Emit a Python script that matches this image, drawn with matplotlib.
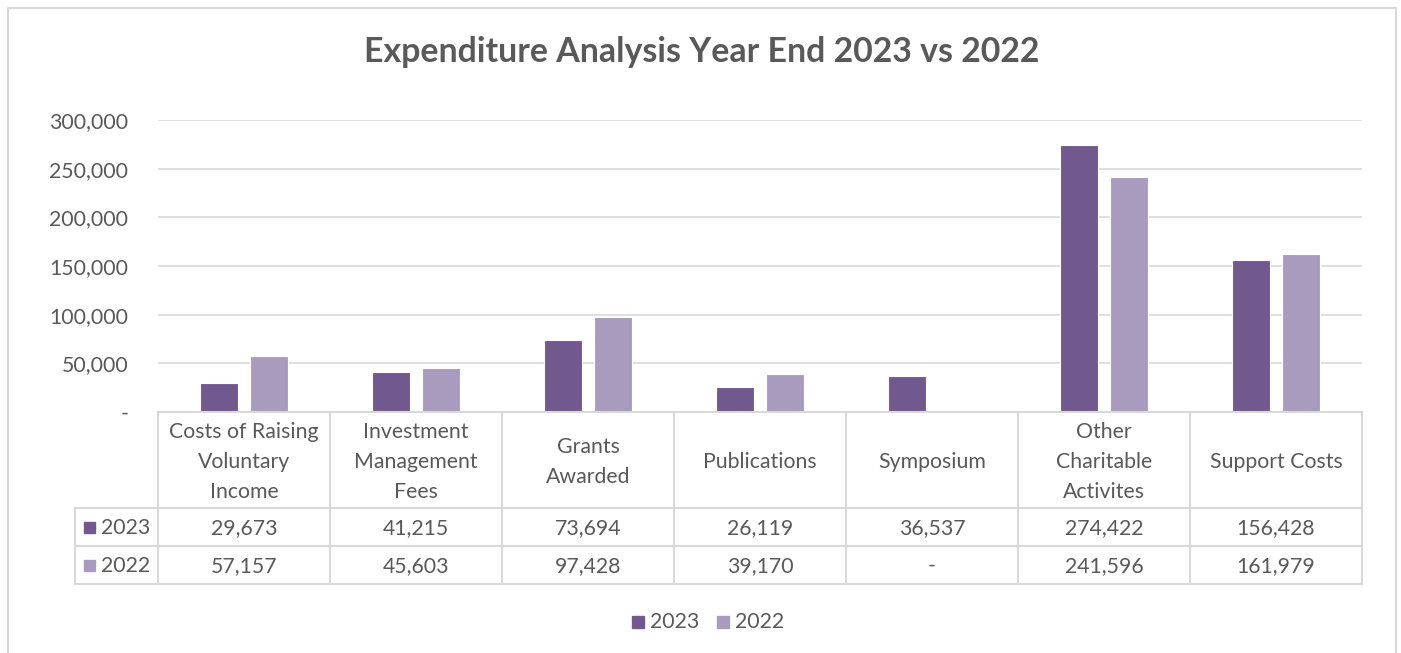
import numpy as np
import matplotlib
matplotlib.use("Agg")
import matplotlib.pyplot as plt
from matplotlib.patches import Rectangle

plt.rcParams['font.family'] = ['Lato', 'DejaVu Sans']

# expenditure by heading
categories = ["Costs of Raising\nVoluntary\nIncome", "Investment\nManagement\nFees",
              "Grants\nAwarded", "Publications", "Symposium",
              "Other\nCharitable\nActivites", "Support Costs"]
series_names = ["2023", "2022"]
values_2023 = [29673, 41215, 73694, 26119, 36537, 274422, 156428]
values_2022 = [57157, 45603, 97428, 39170, 0, 241596, 161979]
yticks = [0, 50000, 100000, 150000, 200000, 250000, 300000]

c2023 = "#71588F"
c2022 = "#A99BBD"
txt = "#595959"
grid = "#D9D9D9"
fs = 15.3

W, H = 1401, 653
fig = plt.figure(figsize=(W / 100, H / 100), dpi=100)

def fmt(v):
    return f"{v:,}" if v else "-"

# plot area in pixels
px_l, px_r, px_t, px_b = 158, 1362, 120, 412
ax = fig.add_axes([px_l / W, 1 - px_b / H, (px_r - px_l) / W, (px_b - px_t) / H])
x = np.arange(len(categories))
bw = 0.22
off = 0.143
ax.bar(x - off, values_2023, bw, color=c2023, edgecolor="white", linewidth=0.8, zorder=3)
ax.bar(x + off, values_2022, bw, color=c2022, edgecolor="white", linewidth=0.8, zorder=3)
ax.set_xlim(-0.5, len(categories) - 0.5)
ax.set_ylim(0, 300000)
ax.set_yticks(yticks)
ax.set_yticklabels([fmt(v) for v in yticks])
ax.tick_params(axis='y', length=0, pad=21.5, labelsize=fs, labelcolor=txt)
ax.tick_params(axis='x', length=0, labelbottom=False)
ax.grid(axis='y', color=grid, linewidth=1.2, zorder=0)
for s in ax.spines.values():
    s.set_visible(False)

# overlay in pixel coordinates for border, title, table and legend
ov = fig.add_axes([0, 0, 1, 1], zorder=-1)
ov.set_xlim(0, W)
ov.set_ylim(H, 0)
ov.axis('off')
ov.patch.set_alpha(0)

# chart border
ov.plot([8, 8, 1396, 1396], [H + 5, 8, 8, H + 5], color=grid, lw=1.5)

ov.text(702, 52, "Expenditure Analysis Year End 2023 vs 2022", ha='center', va='center',
        fontsize=24.4, fontweight='bold', color=txt)

# data table
tab = fig.add_axes([0, 0, 1, 1])
tab.set_xlim(0, W)
tab.set_ylim(H, 0)
tab.axis('off')
tab.patch.set_alpha(0)
n = len(categories)
cw = (px_r - px_l) / n
row_top, hdr_bot, r1_bot, r2_bot, left_col = 412, 508, 546, 584, 75
lc = "#D9D9D9"
tab.plot([px_l, px_r], [row_top, row_top], color=lc, lw=1.5)
for yy in (hdr_bot, r1_bot, r2_bot):
    tab.plot([left_col, px_r], [yy, yy], color=lc, lw=1.5)
for k in range(n + 1):
    tab.plot([px_l + k * cw] * 2, [row_top, r2_bot], color=lc, lw=1.5)
tab.plot([left_col, left_col], [hdr_bot, r2_bot], color=lc, lw=1.5)

for i, lab in enumerate(categories):
    tab.text(px_l + (i + 0.5) * cw, (row_top + hdr_bot) / 2 + 2, lab, ha='center', va='center',
             fontsize=fs, color=txt, linespacing=1.6)

rows = [(series_names[0], values_2023, c2023, (hdr_bot + r1_bot) / 2 + 1),
        (series_names[1], values_2022, c2022, (r1_bot + r2_bot) / 2 + 1)]
for name, vals, col, yc in rows:
    tab.add_patch(Rectangle((84, yc - 6), 11, 11, color=col))
    tab.text(101, yc, name, ha='left', va='center', fontsize=fs, color=txt)
    for i, v in enumerate(vals):
        tab.text(px_l + (i + 0.5) * cw, yc, fmt(v), ha='center', va='center',
                 fontsize=fs, color=txt)

# legend
tab.add_patch(Rectangle((632, 616), 12, 12, color=c2023))
tab.text(650, 622, series_names[0], ha='left', va='center', fontsize=fs, color=txt)
tab.add_patch(Rectangle((717, 616), 12, 12, color=c2022))
tab.text(735, 622, series_names[1], ha='left', va='center', fontsize=fs, color=txt)

fig.savefig("out.png", dpi=100, facecolor="white")
